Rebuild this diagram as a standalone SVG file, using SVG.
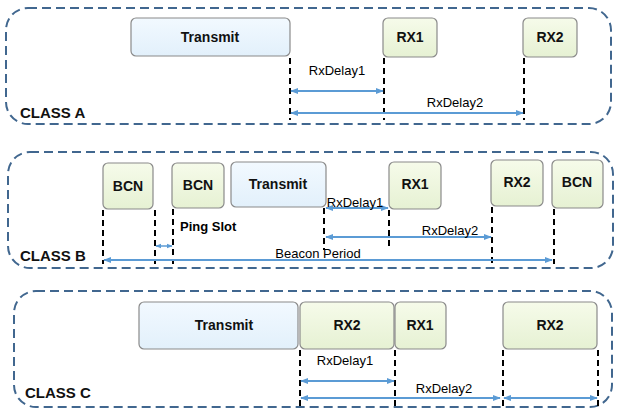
<svg xmlns="http://www.w3.org/2000/svg" width="620" height="414" viewBox="0 0 620 414">
<defs>
<linearGradient id="gb" x1="0" y1="0" x2="0" y2="1"><stop offset="0" stop-color="#f2f9ff"/><stop offset="1" stop-color="#e2f0fb"/></linearGradient>
<linearGradient id="gg" x1="0" y1="0" x2="0" y2="1"><stop offset="0" stop-color="#f6fbea"/><stop offset="1" stop-color="#e6f1d3"/></linearGradient>
<marker id="ar" viewBox="0 0 10 10" refX="9" refY="5" markerWidth="4" markerHeight="4" orient="auto-start-reverse"><path d="M0,1 L10,5 L0,9 z" fill="#5b9bd5"/></marker>
</defs>
<style>
.cont{fill:none;stroke:#41678f;stroke-width:2;stroke-dasharray:9,5}
.tx{fill:url(#gb);stroke:#8a8a8a;stroke-width:1.2}
.rx{fill:url(#gg);stroke:#8a8a8a;stroke-width:1.2}
.dl{stroke:#000;stroke-width:2;stroke-dasharray:6,4}
.ar{stroke:#5b9bd5;stroke-width:2;marker-start:url(#ar);marker-end:url(#ar)}
text{font-family:"Liberation Sans",Arial,sans-serif;font-weight:bold;fill:#111}
.n{font-size:14px;text-anchor:middle}
.l{font-size:13px;font-weight:normal;text-anchor:middle;fill:#000}
.c{font-size:15px}
</style>
<rect class="cont" x="6" y="8" width="605" height="116" rx="22"/>
<rect class="cont" x="8" y="152" width="605" height="116" rx="22"/>
<rect class="cont" x="14" y="291" width="598" height="116" rx="22"/>
<text class="c" x="20" y="118">CLASS A</text>
<text class="c" x="20" y="261">CLASS B</text>
<text class="c" x="25" y="398">CLASS C</text>
<g id="a-tx"><rect class="tx" x="131" y="18" width="159" height="38" rx="5"/><text class="n" x="210" y="42">Transmit</text></g>
<g id="a-rx1"><rect class="rx" x="383" y="18" width="54" height="39" rx="5"/><text class="n" x="410" y="42">RX1</text></g>
<g id="a-rx2"><rect class="rx" x="523" y="18" width="54" height="39" rx="5"/><text class="n" x="550" y="42">RX2</text></g>
<g id="b-bcn1"><rect class="rx" x="103" y="163" width="50" height="46" rx="5"/><text class="n" x="128" y="191">BCN</text></g>
<g id="b-bcn2"><rect class="rx" x="172" y="163" width="52" height="45" rx="5"/><text class="n" x="198" y="190">BCN</text></g>
<g id="b-tx"><rect class="tx" x="231" y="162" width="95" height="45" rx="5"/><text class="n" x="278" y="189">Transmit</text></g>
<g id="b-rx1"><rect class="rx" x="389" y="162" width="52" height="47" rx="5"/><text class="n" x="415" y="189">RX1</text></g>
<g id="b-rx2"><rect class="rx" x="491" y="160" width="52" height="46" rx="5"/><text class="n" x="517" y="187">RX2</text></g>
<g id="b-bcn3"><rect class="rx" x="552" y="160" width="51" height="48" rx="5"/><text class="n" x="577" y="187">BCN</text></g>
<g id="c-tx"><rect class="tx" x="139" y="302" width="159" height="47" rx="5"/><text class="n" x="224" y="330">Transmit</text></g>
<g id="c-rx2a"><rect class="rx" x="300" y="302" width="94" height="47" rx="5"/><text class="n" x="347" y="330">RX2</text></g>
<g id="c-rx1"><rect class="rx" x="395" y="302" width="51" height="47" rx="5"/><text class="n" x="420" y="330">RX1</text></g>
<g id="c-rx2b"><rect class="rx" x="503" y="302" width="94" height="47" rx="5"/><text class="n" x="550" y="330">RX2</text></g>
<g id="connectors">
<path class="dl" d="M290 58V120M384 58V120M524 58V120"/>
<line class="ar" x1="291" y1="91" x2="383" y2="91"/>
<line class="ar" x1="291" y1="113" x2="523" y2="113"/>
<text class="l" x="337" y="75">RxDelay1</text>
<text class="l" x="455" y="107">RxDelay2</text>
<path class="dl" d="M103 210V264M155 210V264M173 209V264M324 208V250M389 210V250M492 207V264M554 209V264"/>
<line class="ar" x1="326" y1="208" x2="388" y2="208"/>
<line class="ar" x1="326" y1="237" x2="491" y2="237"/>
<line class="ar" x1="156" y1="246" x2="172" y2="246" style="stroke-width:1.5"/>
<line class="ar" x1="104" y1="260" x2="552" y2="260"/>
<text class="l" x="355" y="207">RxDelay1</text>
<text class="l" x="450" y="235">RxDelay2</text>
<text class="l" x="180" y="231" style="font-weight:bold;text-anchor:start">Ping Slot</text>
<text class="l" x="318" y="258">Beacon Period</text>
<path class="dl" d="M300 350V406M395 350V406M503 350V406M598 350V406"/>
<line class="ar" x1="301" y1="381" x2="394" y2="381"/>
<line class="ar" x1="301" y1="398" x2="500" y2="398"/>
<line class="ar" x1="504" y1="398" x2="597" y2="398"/>
<text class="l" x="345" y="365">RxDelay1</text>
<text class="l" x="444" y="393">RxDelay2</text>
</g>
</svg>
